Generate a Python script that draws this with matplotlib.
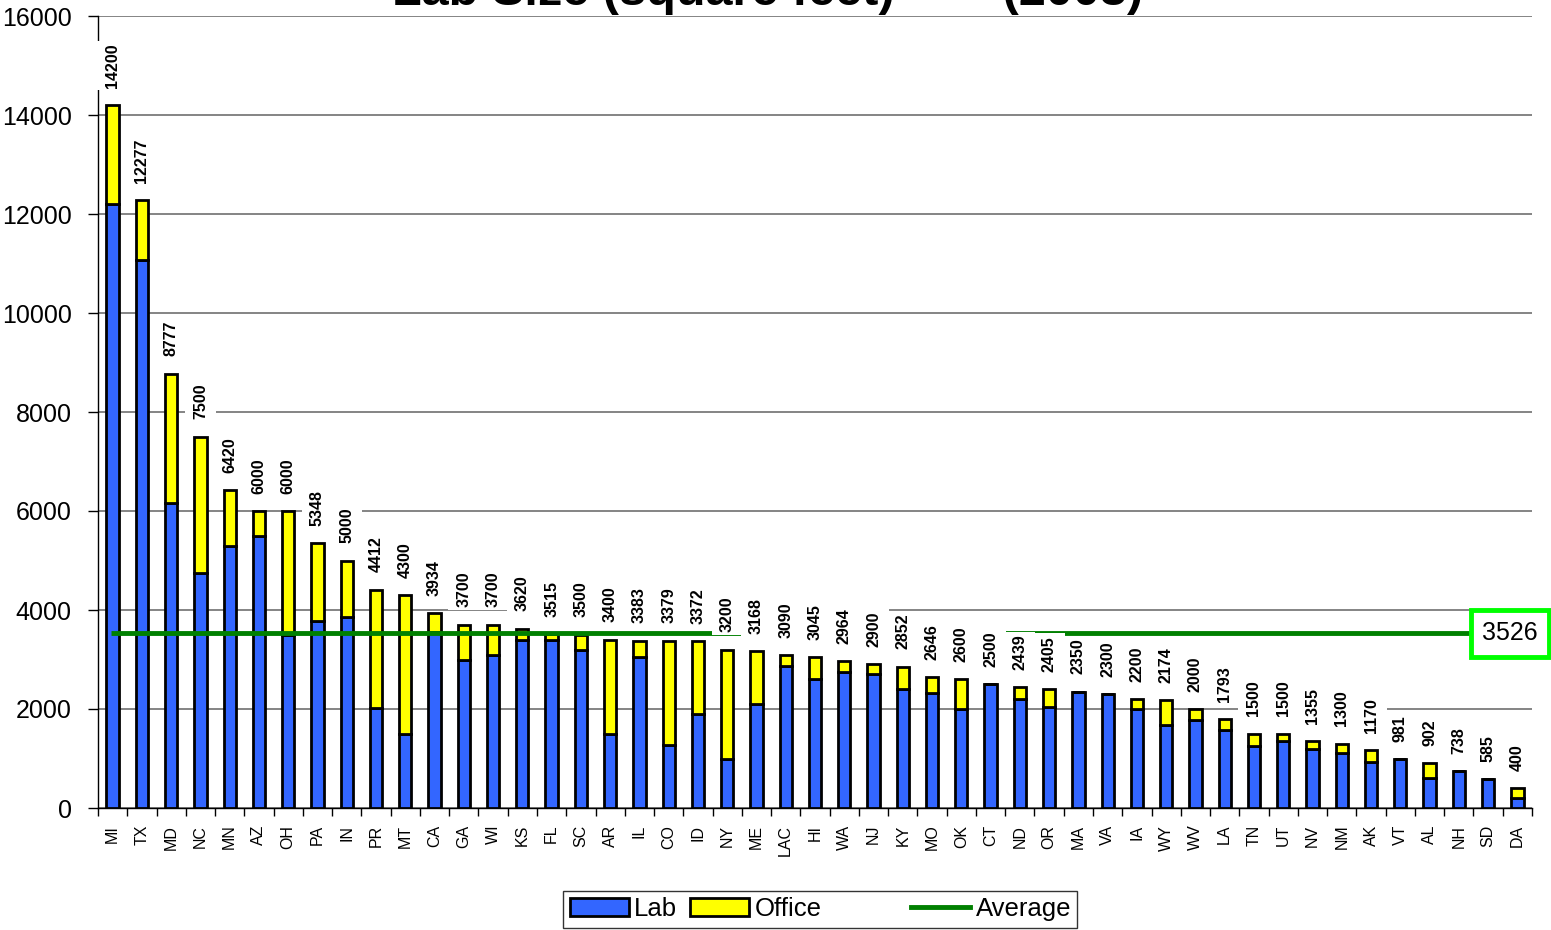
import matplotlib
matplotlib.use("Agg")
import matplotlib.pyplot as plt
from matplotlib.patches import Patch, Rectangle
from matplotlib.lines import Line2D
from matplotlib.path import Path

plt.rcParams["font.family"] = ["Liberation Sans", "DejaVu Sans"]

states = ["MI", "TX", "MD", "NC", "MN", "AZ", "OH", "PA", "IN", "PR",
          "MT", "CA", "GA", "WI", "KS", "FL", "SC", "AR", "IL", "CO",
          "ID", "NY", "ME", "LAC", "HI", "WA", "NJ", "KY", "MO", "OK",
          "CT", "ND", "OR", "MA", "VA", "IA", "WY", "WV", "LA", "TN",
          "UT", "NV", "NM", "AK", "VT", "AL", "NH", "SD", "DA"]
totals = [14200, 12277, 8777, 7500, 6420, 6000, 6000, 5348, 5000, 4412,
          4300, 3934, 3700, 3700, 3620, 3515, 3500, 3400, 3383, 3379,
          3372, 3200, 3168, 3090, 3045, 2964, 2900, 2852, 2646, 2600,
          2500, 2439, 2405, 2350, 2300, 2200, 2174, 2000, 1793, 1500,
          1500, 1355, 1300, 1170, 981, 902, 738, 585, 400]
lab = [12200, 11077, 6160, 4750, 5300, 5500, 3500, 3780, 3860, 2030,
       1500, 3550, 3000, 3100, 3400, 3400, 3200, 1500, 3050, 1280,
       1900, 1000, 2100, 2870, 2600, 2750, 2700, 2400, 2330, 2000,
       2500, 2200, 2050, 2350, 2300, 2000, 1680, 1780, 1580, 1250,
       1360, 1200, 1120, 920, 981, 600, 738, 585, 200]
office = [t - l for t, l in zip(totals, lab)]
average = 3526

blue = "#3366FF"
yellow = "#FFFF00"
green = "#008000"


def label_box(x0, y0, width, height, mutation_size):
    # white box behind the rotated value labels: thin along the text,
    # wide across it (like the excel label boxes)
    pl = 0.15 * mutation_size
    pc = 0.5 * mutation_size
    x0, y0 = x0 - pl, y0 - pc
    x1, y1 = x0 + width + 2 * pl, y0 + height + 2 * pc
    return Path([(x0, y0), (x1, y0), (x1, y1), (x0, y1), (x0, y0)],
                closed=True)


fig = plt.figure(figsize=(15.51, 9.3), dpi=100)
ax = fig.add_axes([98 / 1551, 1 - 808 / 930, 1434 / 1551, 792 / 930])

x = list(range(len(states)))
ax.bar(x, lab, width=0.42, color=blue, edgecolor="black", linewidth=2, zorder=3)
ax.bar(x, office, bottom=lab, width=0.42, color=yellow, edgecolor="black",
       linewidth=2, zorder=3)

# average line, stops at the value box on the right
ax.plot([-0.05, 46.45], [average, average], color=green, lw=3.5, zorder=4,
        solid_capstyle="butt")
ax.text(47.75, average, str(average), ha="center", va="center", fontsize=18,
        zorder=6, clip_on=False,
        bbox=dict(boxstyle="square,pad=0.45", facecolor="white",
                  edgecolor="#00FF00", linewidth=3.5))

for xi, t in zip(x, totals):
    ax.annotate(str(t), (xi, t), xytext=(0, 12.5), textcoords="offset points",
                rotation=90, ha="center", va="bottom", fontsize=11.5,
                fontweight="bold", zorder=5,
                bbox=dict(boxstyle=label_box, facecolor="white",
                          edgecolor="none"))

ax.set_xlim(-0.5, len(states) - 0.5)
ax.set_ylim(0, 16000)
ax.set_yticks(range(0, 16001, 2000))
ax.tick_params(axis="y", labelsize=18, length=7, width=1, pad=12)
ax.yaxis.grid(True, color="#707070", linewidth=1.2, zorder=0)
ax.set_axisbelow(True)

ax.set_xticks(x)
ax.set_xticklabels(states, rotation=90, fontsize=11.5)
ax.tick_params(axis="x", which="major", length=0, pad=12)
ax.set_xticks([i - 0.5 for i in range(len(states) + 1)], minor=True)
ax.tick_params(axis="x", which="minor", length=6, width=1)

for side in ["top", "right"]:
    ax.spines[side].set_visible(False)
ax.spines["left"].set_linewidth(1)
ax.spines["bottom"].set_linewidth(1)

fig.text(0.495, 1 - 5 / 930, "Lab Size (square feet)        (2003)",
         ha="center", va="baseline", fontsize=35, fontweight="bold")

handles = [Patch(facecolor=blue, edgecolor="black", linewidth=2),
           Patch(facecolor=yellow, edgecolor="black", linewidth=2),
           Rectangle((0, 0), 1, 1, fill=False, edgecolor="none"),
           Line2D([], [], color=green, lw=3.5)]
labels = ["Lab", "Office", "", "Average"]
leg = fig.legend(handles, labels, ncol=4, loc="upper center",
                 bbox_to_anchor=(0.529, 1 - 891 / 930), fontsize=18.5,
                 frameon=True, fancybox=False, edgecolor="black",
                 handlelength=2.3, handletextpad=0.2, columnspacing=0.5,
                 borderpad=0.25, borderaxespad=0)
leg.get_frame().set_linewidth(1)

fig.savefig("out.png", dpi=100)
